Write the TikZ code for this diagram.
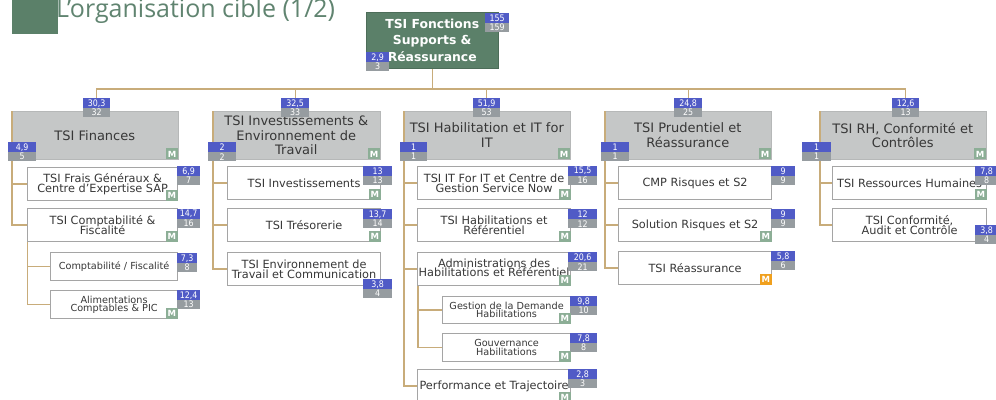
\documentclass[tikz,border=0pt]{standalone}
\usepackage{fontspec}
\setmainfont{DejaVu Sans}
\newfontfamily\bdgfam[FakeStretch=0.88]{DejaVu Sans}
\newfontfamily\titlefam{Open Sans}
\definecolor{rootgreen}{RGB}{91,128,105}
\definecolor{titlecol}{RGB}{96,132,112}
\definecolor{lonegray}{RGB}{197,199,199}
\definecolor{loneborder}{RGB}{182,184,184}
\definecolor{chborder}{RGB}{165,165,165}
\definecolor{conncol}{RGB}{200,172,122}
\definecolor{bluec}{RGB}{80,91,198}
\definecolor{grayc}{RGB}{150,156,160}
\definecolor{sage}{RGB}{140,174,150}
\definecolor{orangec}{RGB}{240,160,30}
\definecolor{txt}{RGB}{55,55,55}
\pgfdeclarelayer{back}
\pgfdeclarelayer{connl}
\pgfsetlayers{back,connl,main}
\newcommand\bdg[6]{%
  \node[bblue,minimum width=#4pt] (#1b) at (#2,#3) {#5};
  \node[bgray,minimum width=#4pt] (#1g) at (#2,#3+10) {#6};}
\begin{document}
\begin{tikzpicture}[x=1pt,y=-1pt,
  conn/.style={draw=conncol,line width=1.3pt},
  rootbox/.style={rectangle,fill=rootgreen,draw=rootgreen!85!black,line width=0.5pt,anchor=north west,inner sep=0pt,align=center,text=white,font={\bfseries\fontsize{12.4}{16.7}\selectfont}},
  lvlone/.style={rectangle,fill=lonegray,draw=loneborder,line width=0.6pt,anchor=north west,inner sep=0pt,minimum height=48pt,align=center,text=txt,font={\fontsize{13}{14.5}\selectfont\lineskiplimit=-20pt}},
  childbox/.style={rectangle,fill=white,draw=chborder,line width=1.2pt,anchor=north west,inner sep=0pt,minimum height=33pt,align=center,text=txt,font={\fontsize{11.3}{9.5}\selectfont\lineskiplimit=-20pt}},
  gcbox/.style={childbox,minimum height=28pt,font={\fontsize{9.7}{8.4}\selectfont\lineskiplimit=-20pt}},
  bblue/.style={rectangle,fill=bluec,text=white,anchor=north west,inner sep=0pt,minimum height=10pt,font={\bdgfam\fontsize{9}{9}\selectfont}},
  bgray/.style={rectangle,fill=grayc,text=white,anchor=north west,inner sep=0pt,minimum height=9pt,font={\bdgfam\fontsize{9}{9}\selectfont}},
  mtag/.style={rectangle,fill=sage,text=white,inner sep=0pt,minimum width=12.5pt,minimum height=11pt,anchor=south east,font={\bfseries\fontsize{8.5}{9}\selectfont}},
]
\useasboundingbox (0,0) rectangle (996,399);
\begin{pgfonlayer}{back}
\fill[white] (0,0) rectangle (996,399);
\end{pgfonlayer}
\clip (0,0) rectangle (996,399);

% title
\node[rectangle,fill=rootgreen,anchor=north west,inner sep=0pt,minimum width=46pt,minimum height=34pt] (sq) at (12,0) {};
\node[anchor=base west,inner sep=0pt,text=titlecol,font={\titlefam\fontsize{25}{25}\selectfont}] (title) at (56,17) {L’organisation cible (1/2)};

% root
\node[rootbox,minimum width=132pt,minimum height=56pt] (root) at (366,12) {TSI Fonctions\\Supports \&\\Réassurance};
\bdg{rt}{485}{13}{24}{155}{159}
\bdg{rl}{366}{52}{23}{2,9}{3}
\coordinate (bus) at (0,89);

% level 1
\begin{pgfonlayer}{back}
\node[lvlone,minimum width=167pt] (c1) at (11,111) {TSI Finances};
\node[lvlone,minimum width=168pt] (c2) at (212,111) {TSI Investissements \&\\Environnement de\\Travail};
\node[lvlone,minimum width=167pt] (c3) at (403,111) {TSI Habilitation et IT for\\IT};
\node[lvlone,minimum width=167pt] (c4) at (604,111) {TSI Prudentiel et\\Réassurance};
\node[lvlone,minimum width=167pt] (c5) at (819,111) {TSI RH, Conformité et\\Contrôles};
\end{pgfonlayer}
\bdg{t1}{83}{98}{27}{30,3}{32}
\bdg{t2}{281}{98}{28}{32,5}{33}
\bdg{t3}{473}{98}{27}{51,9}{53}
\bdg{t4}{674}{98}{28}{24,8}{25}
\bdg{t5}{892}{98}{27}{12,6}{13}
\bdg{l1}{8}{142}{28}{4,9}{5}
\bdg{l2}{208}{142}{28}{2}{2}
\bdg{l3}{400}{142}{27}{1}{1}
\bdg{l4}{601}{142}{28}{1}{1}
\bdg{l5}{802}{142}{29}{1}{1}
\node[mtag] (c1m) at (c1.south east) {M};
\node[mtag] (c2m) at (c2.south east) {M};
\node[mtag] (c3m) at (c3.south east) {M};
\node[mtag] (c4m) at (c4.south east) {M};
\node[mtag] (c5m) at (c5.south east) {M};

% column 1
\node[childbox,minimum width=150pt] (c1a) at (27,167) {TSI Frais Généraux \&\\Centre d’Expertise SAP};
\bdg{c1ab}{177}{166}{23}{6,9}{7}
\node[mtag] (c1am) at (c1a.south east) {M};
\node[childbox,minimum width=150pt] (c1b) at (27,208) {TSI Comptabilité \&\\Fiscalité};
\bdg{c1bb}{177}{209}{23}{14,7}{16}
\node[mtag] (c1bm) at (c1b.south east) {M};
\node[gcbox,minimum width=127pt] (c1b1) at (50,252) {Comptabilité / Fiscalité};
\bdg{c1b1b}{177}{253}{20}{7,3}{8}
\node[gcbox,minimum width=127pt] (c1b2) at (50,290) {Alimentations\\Comptables \& PIC};
\bdg{c1b2b}{177}{290}{23}{12,4}{13}
\node[mtag] (c1b2m) at (c1b2.south east) {M};

% column 2
\node[childbox,minimum width=153pt] (c2a) at (227,166) {TSI Investissements};
\bdg{c2ab}{363}{166}{29}{13}{13}
\node[mtag] (c2am) at (c2a.south east) {M};
\node[childbox,minimum width=153pt] (c2b) at (227,208) {TSI Trésorerie};
\bdg{c2bb}{363}{209}{29}{13,7}{14}
\node[mtag] (c2bm) at (c2b.south east) {M};
\node[childbox,minimum width=153pt] (c2c) at (227,252) {TSI Environnement de\\Travail et Communication};
\bdg{c2cb}{363}{279}{29}{3,8}{4}

% column 3
\node[childbox,minimum width=153pt] (c3a) at (417,166) {TSI IT For IT et Centre de\\Gestion Service Now};
\bdg{c3ab}{568}{166}{29}{15,5}{16}
\node[mtag] (c3am) at (c3a.south east) {M};
\node[childbox,minimum width=153pt] (c3b) at (417,208) {TSI Habilitations et\\Référentiel};
\bdg{c3bb}{568}{209}{29}{12}{12}
\node[mtag] (c3bm) at (c3b.south east) {M};
\node[childbox,minimum width=153pt,text depth=3pt] (c3c) at (417,252) {Administrations des\\Habilitations et Référentiel};
\bdg{c3cb}{568}{252}{29}{20,6}{21}
\node[mtag] (c3cm) at (c3c.south east) {M};
\node[gcbox,minimum width=128pt,minimum height=27pt] (c3c1) at (442,296) {Gestion de la Demande\\Habilitations};
\bdg{c3c1b}{570}{296}{27}{9,8}{10}
\node[mtag] (c3c1m) at (c3c1.south east) {M};
\node[gcbox,minimum width=128pt] (c3c2) at (442,333) {Gouvernance\\Habilitations};
\bdg{c3c2b}{570}{333}{27}{7,8}{8}
\node[mtag] (c3c2m) at (c3c2.south east) {M};
\node[childbox,minimum width=153pt] (c3d) at (417,369) {Performance et Trajectoire};
\bdg{c3db}{568}{369}{29}{2,8}{3}
\node[mtag] (c3dm) at (c3d.south east) {M};

% column 4
\node[childbox,minimum width=153pt] (c4a) at (618,166) {CMP Risques et S2};
\bdg{c4ab}{771}{166}{24}{9}{9}
\node[childbox,minimum width=153pt] (c4b) at (618,208) {Solution Risques et S2};
\bdg{c4bb}{771}{209}{24}{9}{9}
\node[mtag] (c4bm) at (c4b.south east) {M};
\node[childbox,minimum width=153pt] (c4c) at (618,251) {TSI Réassurance};
\bdg{c4cb}{771}{251}{24}{5,8}{6}
\node[mtag,fill=orangec] (c4cm) at (c4c.south east) {M};

% column 5
\node[childbox,minimum width=154pt] (c5a) at (832,166) {TSI Ressources Humaines};
\bdg{c5ab}{975}{166}{23}{7,8}{8}
\node[mtag] (c5am) at (c5a.south east) {M};
\node[childbox,minimum width=154pt] (c5b) at (832,208) {TSI Conformité,\\Audit et Contrôle};
\bdg{c5bb}{975}{225}{23}{3,8}{4}

% connectors
\begin{pgfonlayer}{connl}
\draw[conn] (root.south) -- (root.south |- bus) -| (t1b.north);
\draw[conn] (root.south) -- (root.south |- bus) -| (t2b.north);
\draw[conn] (root.south) -- (root.south |- bus) -| (t3b.north);
\draw[conn] (root.south) -- (root.south |- bus) -| (t4b.north);
\draw[conn] (root.south) -- (root.south |- bus) -| (t5b.north);
\draw[conn] ([xshift=1pt]c1.north west) |- (c1a.west);
\draw[conn] ([xshift=1pt]c1.north west) |- (c1b.west);
\draw[conn] ([xshift=0.5pt]c1b.south west) |- (c1b1.west);
\draw[conn] ([xshift=0.5pt]c1b.south west) |- (c1b2.west);
\draw[conn] ([xshift=1pt]c2.north west) |- (c2a.west);
\draw[conn] ([xshift=1pt]c2.north west) |- (c2b.west);
\draw[conn] ([xshift=1pt]c2.north west) |- (c2c.west);
\draw[conn] ([xshift=1pt]c3.north west) |- (c3a.west);
\draw[conn] ([xshift=1pt]c3.north west) |- (c3b.west);
\draw[conn] ([xshift=1pt]c3.north west) |- (c3c.west);
\draw[conn] ([xshift=1pt]c3.north west) |- (c3d.west);
\draw[conn] ([xshift=1pt]c3c.south west) |- (c3c1.west);
\draw[conn] ([xshift=1pt]c3c.south west) |- (c3c2.west);
\draw[conn] ([xshift=1pt]c4.north west) |- (c4a.west);
\draw[conn] ([xshift=1pt]c4.north west) |- (c4b.west);
\draw[conn] ([xshift=1pt]c4.north west) |- (c4c.west);
\draw[conn] ([xshift=1pt]c5.north west) |- (c5a.west);
\draw[conn] ([xshift=1pt]c5.north west) |- (c5b.west);
\end{pgfonlayer}
\end{tikzpicture}
\end{document}
